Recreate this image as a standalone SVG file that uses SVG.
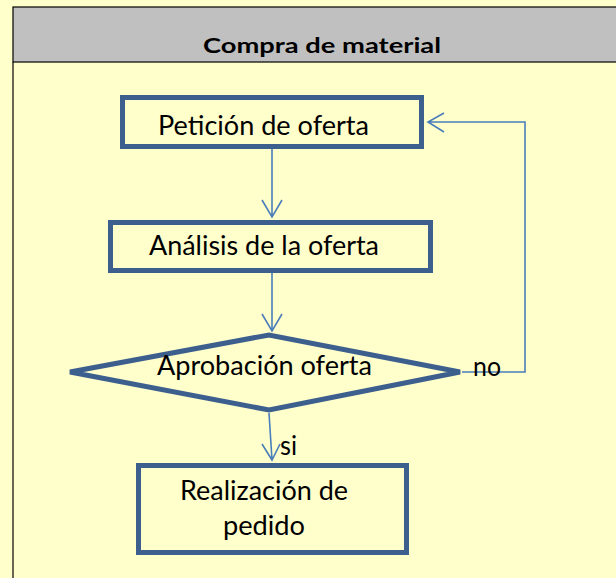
<svg xmlns="http://www.w3.org/2000/svg" width="616" height="578" viewBox="0 0 616 578">
<style>
.box{fill:none;stroke:#3C5F8E;stroke-width:5}
.con{fill:none;stroke:#4A7EBB;stroke-width:1.6}
.t{font-family:Lato,"Noto Sans",sans-serif;font-size:26px;fill:#000}
.title{font-family:Lato,"Noto Sans",sans-serif;font-size:21px;font-weight:bold;fill:#000}
</style>
<rect x="0" y="0" width="616" height="578" fill="#FFFFCC"/>
<g id="header">
<rect x="13" y="7" width="610" height="55" fill="#C0C0C0" stroke="#000" stroke-width="1.2"/>
<line x1="13" y1="62" x2="13" y2="578" stroke="#000" stroke-width="1.2"/>
<text class="title" x="322" y="53" text-anchor="middle" textLength="238" lengthAdjust="spacingAndGlyphs">Compra de material</text>
</g>
<g id="connectors">
<path class="con" d="M272 149 V217 M262 200 L272 217 L282 200"/>
<path class="con" d="M272 273 V331 M262 314 L272 331 L282 314"/>
<path class="con" d="M269 413 L272 460 M262 444 L272 460 L280 444"/>
<path class="con" d="M462 372 H525 V122 H428 M444 113 L428 122 L444 132"/>
<text class="t" x="473" y="376" textLength="28" lengthAdjust="spacingAndGlyphs">no</text>
<text class="t" x="280" y="455" textLength="17" lengthAdjust="spacingAndGlyphs">si</text>
</g>
<g id="peticion">
<rect class="box" x="122.5" y="97.5" width="299" height="49"/>
<text class="t" x="158" y="135" textLength="211" lengthAdjust="spacingAndGlyphs">Petición de oferta</text>
</g>
<g id="analisis">
<rect class="box" x="110.5" y="222.5" width="320" height="48"/>
<text class="t" x="149" y="255" textLength="230" lengthAdjust="spacingAndGlyphs">Análisis de la oferta</text>
</g>
<g id="aprobacion">
<polygon class="box" points="70,372 269,335 460,372 269,410"/>
<text class="t" x="157" y="375" textLength="215" lengthAdjust="spacingAndGlyphs">Aprobación oferta</text>
</g>
<g id="realizacion">
<rect class="box" x="138.5" y="465.5" width="268" height="87"/>
<text class="t" x="180" y="500" textLength="168" lengthAdjust="spacingAndGlyphs">Realización de</text>
<text class="t" x="223" y="535" textLength="82" lengthAdjust="spacingAndGlyphs">pedido</text>
</g>
</svg>
